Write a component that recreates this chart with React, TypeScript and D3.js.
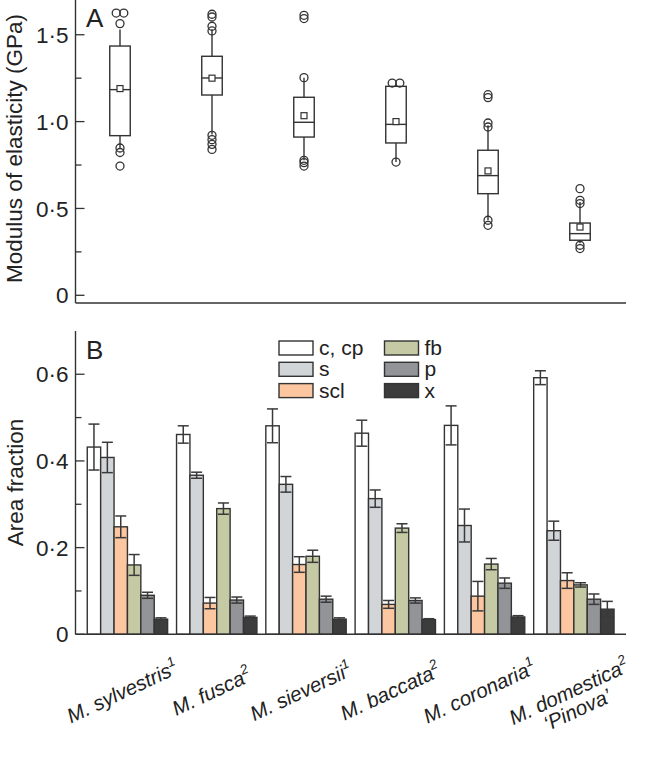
import React from "react";
import * as d3 from "d3";

// ---------- Data ----------
const species = ["M. sylvestris", "M. fusca", "M. sieversii", "M. baccata", "M. coronaria", "M. domestica"];
const speciesSup = ["1", "2", "1", "2", "1", "2"];
const speciesLine2 = ["", "", "", "", "", "\u2018Pinova\u2019"];

// Panel A: box plots of modulus of elasticity (GPa)
const boxQ1 = [0.919, 1.153, 0.911, 0.877, 0.585, 0.317];
const boxMedian = [1.184, 1.251, 0.996, 0.984, 0.689, 0.355];
const boxQ3 = [1.435, 1.376, 1.14, 1.203, 0.835, 0.416];
const whiskerLow = [0.848, 0.925, 0.777, 0.767, 0.432, 0.3];
const whiskerHigh = [1.53, 1.53, 1.253, 1.215, 0.979, 0.537];
const boxMean = [1.19, 1.25, 1.034, 1.0, 0.716, 0.393];
const outliers = [
  [1.625, 1.625, 1.564, 0.848, 0.822, 0.744],
  [1.618, 1.602, 1.549, 1.522, 0.921, 0.896, 0.869, 0.84],
  [1.612, 1.593, 1.253, 0.777, 0.764, 0.744],
  [1.222, 1.222, 0.767],
  [1.155, 1.138, 0.992, 0.969, 0.432, 0.403],
  [0.614, 0.547, 0.528, 0.288, 0.269],
];
const ticksA = [0, 0.5, 1.0, 1.5];
const minorTicksA = [0.25, 0.75, 1.25];

// Panel B: area fractions
const tissues = ["c, cp", "s", "scl", "fb", "p", "x"];
const tissueColors = ["#ffffff", "#d2d5d8", "#fcc6a0", "#c5caa4", "#929498", "#3c3c3c"];
const valC = [0.432, 0.461, 0.481, 0.464, 0.482, 0.592];
const valS = [0.408, 0.367, 0.346, 0.313, 0.251, 0.239];
const valScl = [0.248, 0.072, 0.161, 0.069, 0.088, 0.124];
const valFb = [0.16, 0.29, 0.18, 0.245, 0.162, 0.114];
const valP = [0.09, 0.079, 0.081, 0.078, 0.118, 0.081];
const valX = [0.035, 0.039, 0.035, 0.034, 0.04, 0.058];
const errC = [0.053, 0.02, 0.039, 0.03, 0.045, 0.016];
const errS = [0.035, 0.007, 0.018, 0.02, 0.038, 0.022];
const errScl = [0.025, 0.013, 0.018, 0.009, 0.034, 0.018];
const errFb = [0.024, 0.013, 0.014, 0.01, 0.013, 0.005];
const errP = [0.007, 0.007, 0.007, 0.006, 0.012, 0.012];
const errX = [0.003, 0.003, 0.003, 0.002, 0.003, 0.018];
const ticksB = [0, 0.2, 0.4, 0.6];
const minorTicksB = [0.1, 0.3, 0.5];

const values = [valC, valS, valScl, valFb, valP, valX];
const errors = [errC, errS, errScl, errFb, errP, errX];

// ---------- Layout ----------
const W = 652;
const H = 759;
const FONT = "'Liberation Sans', Arial, Helvetica, sans-serif";
const INK = "#333";
const AXIS_X = 75.5;
const RIGHT = 626;

const fmt = (v: number) => (v === 0 ? "0" : d3.format(".1f")(v).replace(".", "\u00B7"));

export default function App() {
  // Panel A scales
  const yA = d3.scaleLinear().domain([0, 1.7]).range([295.3, 0]);
  const xA = d3.scalePoint<string>().domain(species).range([120, 580]);
  const boxW = 20.5;
  const xAxisA = 303;

  // Panel B scales
  const yB = d3.scaleLinear().domain([0, 0.7]).range([634.3, 330.9]);
  const x0 = d3.scaleBand<string>().domain(species).range([82.8, 618.5]).paddingInner(0.1).paddingOuter(0.05);
  const x1 = d3.scaleBand<string>().domain(tissues).range([0, x0.bandwidth()]);
  const capW = 11;

  const r = 4;

  return (
    <svg
      width={W}
      height={H}
      style={{ position: "absolute", left: 0, top: 0, background: "#fff" }}
      fontFamily={FONT}
    >
      <rect x={0} y={0} width={W} height={H} fill="#fff" />
      {/* ===== Panel A ===== */}
      <g>
        <line x1={AXIS_X} x2={AXIS_X} y1={0} y2={xAxisA} stroke={INK} strokeWidth={1.4} />
        <line x1={AXIS_X} x2={RIGHT} y1={xAxisA} y2={xAxisA} stroke={INK} strokeWidth={1.4} />
        {ticksA.map((t) => (
          <g key={"ta" + t}>
            <line x1={AXIS_X} x2={AXIS_X + 9} y1={yA(t)} y2={yA(t)} stroke={INK} strokeWidth={1.3} />
            <text x={68.5} y={yA(t)} dy="0.36em" textAnchor="end" fontSize={22.5} fill="#222">
              {fmt(t)}
            </text>
          </g>
        ))}
        {minorTicksA.map((t) => (
          <line key={"ma" + t} x1={AXIS_X} x2={AXIS_X + 6} y1={yA(t)} y2={yA(t)} stroke={INK} strokeWidth={1.3} />
        ))}
        <text
          transform={`translate(22,148.5) rotate(-90)`}
          textAnchor="middle"
          fontSize={22.5}
          fill="#222"
        >
          Modulus of elasticity (GPa)
        </text>
        <text x={86} y={27} fontSize={26} fill="#222">
          A
        </text>
        {species.map((sp, i) => {
          const cx = xA(sp) as number;
          const pts = outliers[i];
          return (
            <g key={"box" + sp}>
              <line x1={cx} x2={cx} y1={yA(whiskerHigh[i])} y2={yA(boxQ3[i])} stroke={INK} strokeWidth={1.4} />
              <line x1={cx} x2={cx} y1={yA(boxQ1[i])} y2={yA(whiskerLow[i])} stroke={INK} strokeWidth={1.4} />
              <rect
                x={cx - boxW / 2}
                y={yA(boxQ3[i])}
                width={boxW}
                height={yA(boxQ1[i]) - yA(boxQ3[i])}
                fill="#fff"
                stroke={INK}
                strokeWidth={1.4}
              />
              <line
                x1={cx - boxW / 2}
                x2={cx + boxW / 2}
                y1={yA(boxMedian[i])}
                y2={yA(boxMedian[i])}
                stroke={INK}
                strokeWidth={1.4}
              />
              <rect
                x={cx - 3}
                y={yA(boxMean[i]) - 3}
                width={6}
                height={6}
                fill="#fff"
                stroke={INK}
                strokeWidth={1.2}
              />
              {pts.map((v, j) => {
                // side-by-side placement for identical values
                const dup = pts.filter((w, k) => k !== j && Math.abs(yA(w) - yA(v)) < 1).length > 0;
                const firstIdx = pts.findIndex((w) => Math.abs(yA(w) - yA(v)) < 1);
                const dx = dup ? (firstIdx === j ? -3.8 : 3.8) : 0;
                return (
                  <circle
                    key={j}
                    cx={cx + dx}
                    cy={yA(v)}
                    r={r}
                    fill="none"
                    stroke={INK}
                    strokeWidth={1.3}
                  />
                );
              })}
            </g>
          );
        })}
      </g>

      {/* ===== Panel B ===== */}
      <g>
        <line x1={AXIS_X} x2={AXIS_X} y1={yB(0.7)} y2={yB(0)} stroke={INK} strokeWidth={1.4} />
        {ticksB.map((t) => (
          <g key={"tb" + t}>
            <line x1={AXIS_X} x2={AXIS_X + 9} y1={yB(t)} y2={yB(t)} stroke={INK} strokeWidth={1.3} />
            <text x={68.5} y={yB(t)} dy="0.36em" textAnchor="end" fontSize={22.5} fill="#222">
              {fmt(t)}
            </text>
          </g>
        ))}
        {minorTicksB.map((t) => (
          <line key={"mb" + t} x1={AXIS_X} x2={AXIS_X + 6} y1={yB(t)} y2={yB(t)} stroke={INK} strokeWidth={1.3} />
        ))}
        <text
          transform={`translate(22.5,482.5) rotate(-90)`}
          textAnchor="middle"
          fontSize={22.5}
          fill="#222"
        >
          Area fraction
        </text>
        <text x={86} y={358.5} fontSize={26} fill="#222">
          B
        </text>

        {species.map((sp, i) => (
          <g key={"grp" + sp} transform={`translate(${x0(sp)},0)`}>
            {tissues.map((t, k) => {
              const v = values[k][i];
              const e = errors[k][i];
              const bx = x1(t) as number;
              const bw = x1.bandwidth();
              const mx = bx + bw / 2;
              return (
                <g key={t}>
                  <rect
                    x={bx}
                    y={yB(v)}
                    width={bw}
                    height={yB(0) - yB(v)}
                    fill={tissueColors[k]}
                    stroke={INK}
                    strokeWidth={1.4}
                  />
                  <line x1={mx} x2={mx} y1={yB(v + e)} y2={yB(v - e)} stroke="#3a3a3a" strokeWidth={1.5} />
                  <line x1={mx - capW / 2} x2={mx + capW / 2} y1={yB(v + e)} y2={yB(v + e)} stroke="#3a3a3a" strokeWidth={1.5} />
                  <line x1={mx - capW / 2} x2={mx + capW / 2} y1={yB(v - e)} y2={yB(v - e)} stroke="#3a3a3a" strokeWidth={1.5} />
                </g>
              );
            })}
          </g>
        ))}
        <line x1={AXIS_X} x2={RIGHT} y1={yB(0)} y2={yB(0)} stroke={INK} strokeWidth={1.4} />

        {/* Legend */}
        {tissues.map((t, k) => {
          const col = Math.floor(k / 3);
          const row = k % 3;
          const rx = col === 0 ? 279 : 384.5;
          const ry = 341 + row * 21.3;
          return (
            <g key={"lg" + t}>
              <rect x={rx} y={ry} width={34} height={14} fill={tissueColors[k]} stroke={INK} strokeWidth={1.4} />
              <text x={rx + 40} y={ry + 7} dy="0.34em" fontSize={21} fill="#222">
                {t}
              </text>
            </g>
          );
        })}

        {/* Category labels */}
        {species.map((sp, i) => {
          const cx = (x0(sp) as number) + x0.bandwidth() / 2;
          return (
            <text
              key={"lab" + sp}
              transform={`translate(${cx - 2},698) rotate(-25)`}
              textAnchor="middle"
              fontSize={20.5}
              fontStyle="italic"
              fill="#222"
            >
              <tspan>{sp}</tspan>
              <tspan fontSize={13.5} dy={-9}>
                {speciesSup[i]}
              </tspan>
              {speciesLine2[i] ? (
                <tspan x={0} dy={29} fontSize={20.5}>
                  {speciesLine2[i]}
                </tspan>
              ) : null}
            </text>
          );
        })}
      </g>
    </svg>
  );
}
